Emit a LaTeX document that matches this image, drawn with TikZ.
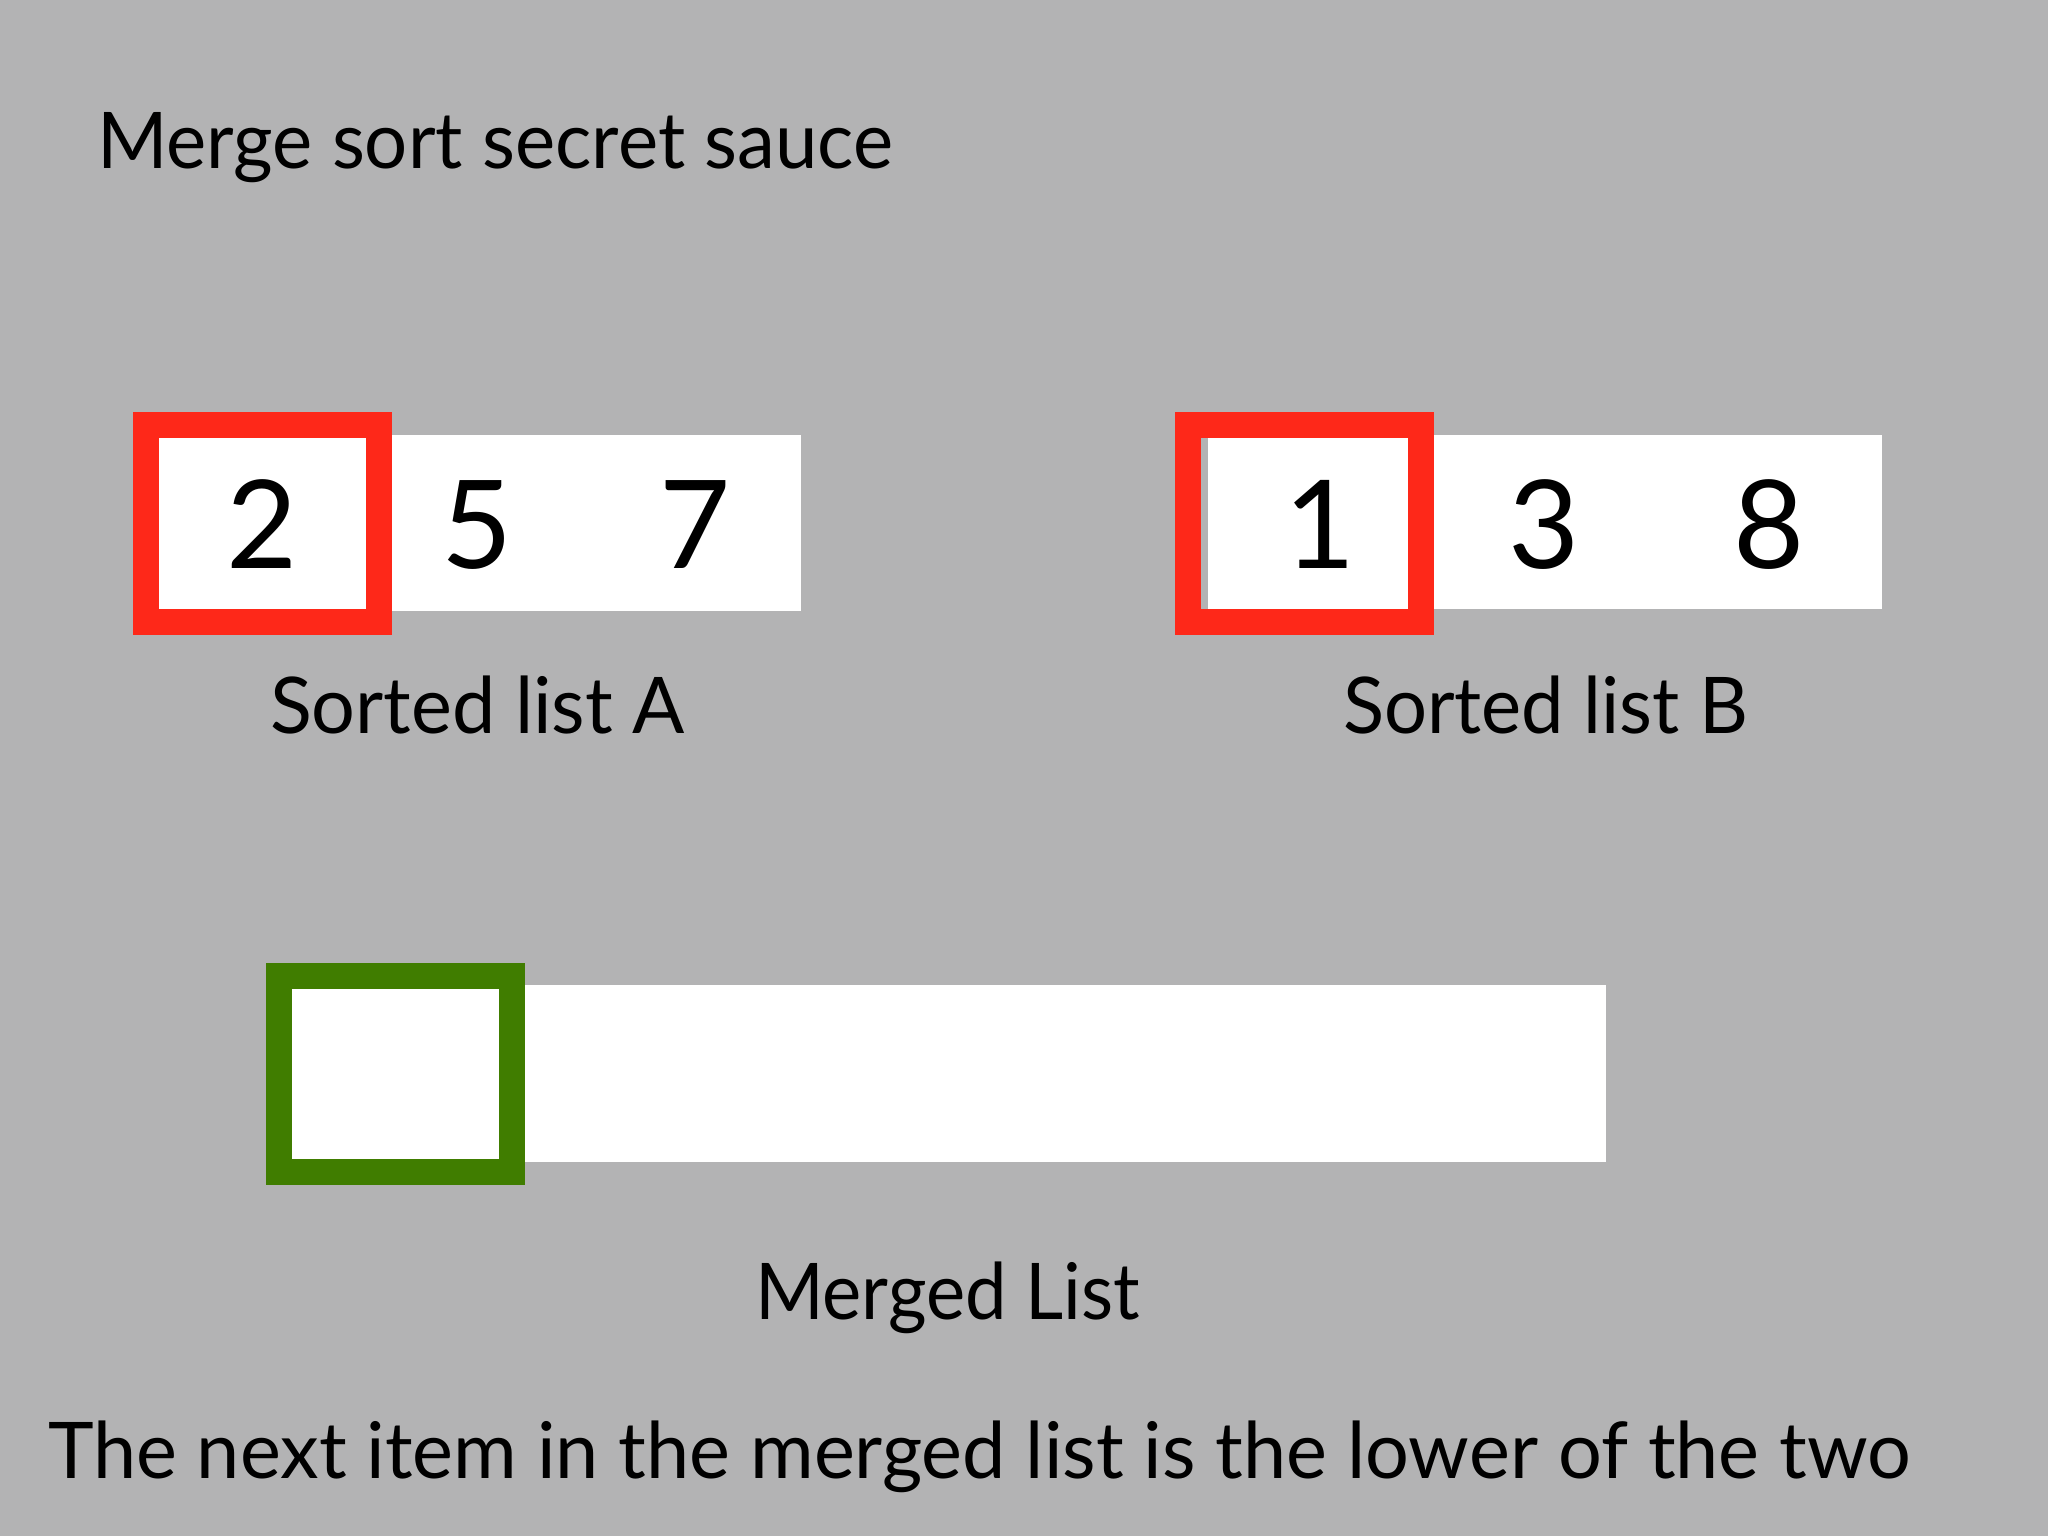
\documentclass[tikz,border=0pt]{standalone}
\usepackage{fontspec}
\usepackage{graphicx}
\setmainfont{Lato}
\definecolor{bg}{RGB}{179,179,180}
\definecolor{ptrred}{RGB}{254,40,25}
\definecolor{ptrgreen}{RGB}{64,125,0}
\newcommand{\fitw}[2]{\resizebox{#1}{\height}{#2}}
\begin{document}
\begin{tikzpicture}[x=0.01cm,y=-0.01cm,
  txt/.style={anchor=base west,inner sep=0pt,outer sep=0pt,font=\fontsize{22.24pt}{26pt}\selectfont},
  digit/.style={anchor=base,inner sep=0pt,font=\fontsize{34.9pt}{40pt}\selectfont},
  bar/.style={fill=white,draw=none,inner sep=0pt,outer sep=0pt,minimum height=#1},
  ptr/.style={draw=#1,line width=0.26cm,inner sep=0pt,outer sep=0pt,minimum width=2.325cm,minimum height=1.965cm}]
\fill[bg] (0,0) rectangle (2048,1536);
\useasboundingbox (0,0) rectangle (2048,1536);
% title
\node[txt] (title) at (97,168) {\fitw{7.96cm}{Merge sort secret sauce}};
% list A
\node[bar=1.76cm,minimum width=6.51cm] (barA) at (475.5,523) {};
\node[digit] (a2) at (262,568) {2};
\node[digit] (a5) at (477,568) {5};
\node[digit] (a7) at (695,568) {7};
\node[ptr=ptrred] (ptrA) at (262.25,523.25) {};
\node[txt] (labA) at (270,733) {\fitw{4.15cm}{Sorted list A}};
% list B
\node[bar=1.74cm,minimum width=6.74cm] (barB) at (1545,522) {};
\node[digit] (b1) at (1320,568) {1};
\node[digit] (b3) at (1544,568) {3};
\node[digit] (b8) at (1769,568) {8};
\node[ptr=ptrred] (ptrB) at (1304.25,523.25) {};
\node[txt] (labB) at (1343,733) {\fitw{4.05cm}{Sorted list B}};
% merged list
\node[bar=1.77cm,minimum width=13.16cm] (barM) at (948,1073.5) {};
\node[ptr=ptrgreen] (ptrM) at (395.5,1074) {};
\node[txt] (labM) at (755,1319) {\fitw{3.85cm}{Merged List}};
% bottom statement
\node[txt] (note) at (48,1478) {\fitw{18.62cm}{The next item in the merged list is the lower of the two}};
\end{tikzpicture}
\end{document}
